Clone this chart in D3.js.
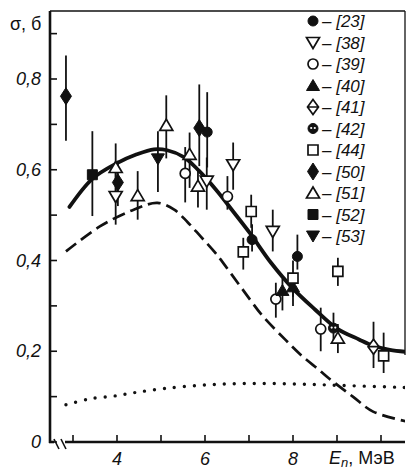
<!DOCTYPE html>
<html>
<head>
<meta charset="utf-8">
<script src="https://cdn.jsdelivr.net/npm/d3@7"></script>
<style>
  body { margin: 0; background: #fff; }
  svg text { font-family: "Liberation Sans", Arial, sans-serif; fill: #111; }
  .num { font-style: italic; font-size: 18px; }
  .leg { font-style: italic; font-size: 17px; }
</style>
</head>
<body>
<svg id="chart" width="407" height="472"></svg>
<script>
// points: [E (MeV), sigma (b), low, high]
var ref23 = [[6.05, 0.683, 0.605, 0.771], [7.07, 0.446, 0.42, 0.48], [8.10, 0.409, 0.38, 0.457]];
var ref38 = [[3.97, 0.541, 0.479, 0.60], [6.04, 0.575, 0.512, 0.627], [6.64, 0.611, 0.556, 0.66], [7.54, 0.464, 0.42, 0.512]];
var ref39 = [[5.55, 0.592, 0.528, 0.65], [6.51, 0.541, 0.512, 0.586], [7.61, 0.315, 0.274, 0.351], [8.63, 0.249, 0.20, 0.296]];
var ref40 = [[7.76, 0.334, 0.29, 0.36], [8.00, 0.342, 0.30, 0.37]];
var ref41 = [[9.83, 0.210, 0.163, 0.265]];
var ref42 = [[8.92, 0.251, 0.22, 0.285]];
var ref44 = [[6.87, 0.419, 0.38, 0.45], [7.05, 0.508, 0.472, 0.545], [8.00, 0.361, 0.32, 0.40], [9.02, 0.376, 0.344, 0.406], [10.06, 0.190, 0.152, 0.241]];
var ref50 = [[2.84, 0.762, 0.664, 0.852], [4.02, 0.572, 0.52, 0.62], [5.87, 0.692, 0.608, 0.788]];
var ref51 = [[3.97, 0.605, 0.55, 0.658], [4.47, 0.543, 0.49, 0.597], [5.12, 0.698, 0.625, 0.764], [5.65, 0.634, 0.56, 0.682], [5.84, 0.564, 0.517, 0.60], [9.02, 0.229, 0.196, 0.26]];
var ref52 = [[3.44, 0.589, 0.498, 0.685]];
var ref53 = [[4.93, 0.624, 0.551, 0.685]];

// curves: [E, sigma]
var totalCurve = [[2.92, 0.518], [3.44, 0.580], [3.99, 0.614], [4.45, 0.634], [4.84, 0.645], [5.14, 0.643],
  [5.52, 0.628], [5.86, 0.598], [6.25, 0.556], [6.64, 0.508], [7.03, 0.459], [7.50, 0.395], [8.00, 0.338],
  [8.50, 0.292], [9.00, 0.250], [9.50, 0.226], [9.83, 0.212], [10.20, 0.203], [10.66, 0.198]];
var dashCurve = [[2.84, 0.420], [3.61, 0.475], [4.38, 0.512], [4.92, 0.527], [5.30, 0.512], [5.60, 0.485],
  [5.90, 0.453], [6.25, 0.415], [6.60, 0.370], [7.03, 0.313], [7.29, 0.280], [7.83, 0.225], [8.20, 0.190],
  [8.59, 0.159], [8.82, 0.140], [9.36, 0.100], [9.82, 0.067], [10.60, 0.045]];
var dotCurve = [[2.84, 0.082], [3.38, 0.095], [3.99, 0.102], [4.41, 0.109], [5.10, 0.118], [6.05, 0.126],
  [7.00, 0.129], [8.00, 0.128], [9.00, 0.125], [10.58, 0.120]];

var yTicks = [0, 0.1, 0.2, 0.3, 0.4, 0.5, 0.6, 0.7, 0.8, 0.9];
var yLabels = { 0: '0', 0.2: '0,2', 0.4: '0,4', 0.6: '0,6', 0.8: '0,8' };
var xTicks = [3, 4, 5, 6, 7, 8, 9, 10];
var xLabels = { 4: '4', 6: '6', 8: '8' };

var series = [
  { key: '[23]', type: 'circle', fill: true, data: ref23 },
  { key: '[38]', type: 'tridown', fill: false, data: ref38 },
  { key: '[39]', type: 'circle', fill: false, data: ref39 },
  { key: '[40]', type: 'triup', fill: true, data: ref40 },
  { key: '[41]', type: 'diamondbar', fill: false, data: ref41 },
  { key: '[42]', type: 'dotcircle', fill: true, data: ref42 },
  { key: '[44]', type: 'square', fill: false, data: ref44 },
  { key: '[50]', type: 'diamond', fill: true, data: ref50 },
  { key: '[51]', type: 'triup', fill: false, data: ref51 },
  { key: '[52]', type: 'square', fill: true, data: ref52 },
  { key: '[53]', type: 'tridown', fill: true, data: ref53 }
];

var plotL = 50, plotT = 11, plotR = 405, plotB = 442;
var svg = d3.select('#chart');

var x = d3.scaleLinear().domain([4, 8]).range([117, 293]);
var y = d3.scaleLinear().domain([0, 0.8]).range([plotB, 79]);

function shape(type) {
  switch (type) {
    case 'circle': return 'M5,0A5,5 0 1,1 -5,0A5,5 0 1,1 5,0Z';
    case 'dotcircle': return 'M5,0A5,5 0 1,1 -5,0A5,5 0 1,1 5,0Z';
    case 'triup': return 'M0,-6L6.5,5L-6.5,5Z';
    case 'tridown': return 'M0,6L6.5,-5L-6.5,-5Z';
    case 'square': return 'M-5,-5H5V5H-5Z';
    case 'diamond': return 'M0,-8.5L5.5,0L0,8.5L-5.5,0Z';
    case 'diamondbar': return 'M0,-7.5L5.5,0L0,7.5L-5.5,0ZM-5.5,0H5.5';
  }
}

function drawMarker(g, s) {
  g.append('path')
    .attr('d', shape(s.type))
    .attr('fill', s.fill ? '#111' : '#fff')
    .attr('stroke', '#111')
    .attr('stroke-width', s.fill ? 1 : 1.7)
    .attr('stroke-linejoin', 'miter');
  if (s.type === 'dotcircle') {
    g.append('circle').attr('cx', -1.8).attr('cy', -0.5).attr('r', 1.1).attr('fill', '#fff');
    g.append('circle').attr('cx', 1.8).attr('cy', -0.5).attr('r', 1.1).attr('fill', '#fff');
  }
}

// frame
var frame = svg.append('g').attr('class', 'frame');
frame.append('line').attr('x1', plotL).attr('x2', plotR).attr('y1', plotT).attr('y2', plotT)
  .attr('stroke', '#111').attr('stroke-width', 1.5);
frame.append('line').attr('x1', plotR).attr('x2', plotR).attr('y1', plotT).attr('y2', 355)
  .attr('stroke', '#111').attr('stroke-width', 1.3);
frame.append('line').attr('x1', plotL).attr('x2', plotL).attr('y1', plotT).attr('y2', plotB + 1)
  .attr('stroke', '#111').attr('stroke-width', 2.6);
frame.append('line').attr('x1', plotL - 1).attr('x2', 54).attr('y1', plotB).attr('y2', plotB)
  .attr('stroke', '#111').attr('stroke-width', 2.6);
frame.append('line').attr('x1', 65).attr('x2', plotR).attr('y1', plotB).attr('y2', plotB)
  .attr('stroke', '#111').attr('stroke-width', 2.6);
// axis break
[54, 61].forEach(function (bx) {
  frame.append('line').attr('x1', bx).attr('x2', bx + 5).attr('y1', plotB - 3).attr('y2', plotB + 7)
    .attr('stroke', '#111').attr('stroke-width', 1.6);
});

// y ticks
var yAxis = svg.append('g');
yAxis.selectAll('line').data(yTicks).enter().append('line')
  .attr('x1', plotL).attr('x2', plotL + 7)
  .attr('y1', function (d) { return y(d); }).attr('y2', function (d) { return y(d); })
  .attr('stroke', '#111').attr('stroke-width', 1.6);
yAxis.selectAll('text').data(yTicks.filter(function (d) { return yLabels[d]; })).enter().append('text')
  .attr('class', 'num')
  .attr('x', 41).attr('y', function (d) { return y(d) + 6; })
  .attr('text-anchor', 'end')
  .text(function (d) { return yLabels[d]; });

// x ticks
var xAxis = svg.append('g');
xAxis.selectAll('line').data(xTicks).enter().append('line')
  .attr('x1', function (d) { return x(d); }).attr('x2', function (d) { return x(d); })
  .attr('y1', plotB).attr('y2', plotB - 7)
  .attr('stroke', '#111').attr('stroke-width', 1.6);
xAxis.selectAll('text').data(xTicks.filter(function (d) { return xLabels[d]; })).enter().append('text')
  .attr('class', 'num')
  .attr('x', function (d) { return x(d); }).attr('y', 465)
  .attr('text-anchor', 'middle')
  .text(function (d) { return xLabels[d]; });

// axis titles
svg.append('text').attr('x', 10).attr('y', 30).style('font-size', '18px').text('σ, б');
var xt = svg.append('text').attr('x', 329).attr('y', 464).style('font-size', '18px');
xt.append('tspan').style('font-style', 'italic').text('E');
xt.append('tspan').style('font-style', 'italic').style('font-size', '13px').attr('dy', 3).text('n');
xt.append('tspan').attr('dy', -3).text(', МэВ');

// curves
svg.append('clipPath').attr('id', 'plot-clip').append('rect')
  .attr('x', plotL).attr('y', plotT).attr('width', plotR - plotL).attr('height', plotB - plotT);
var line = d3.line()
  .x(function (d) { return x(d[0]); })
  .y(function (d) { return y(d[1]); })
  .curve(d3.curveCatmullRom.alpha(0.5));
var curves = svg.append('g').attr('clip-path', 'url(#plot-clip)');
curves.append('path').datum(dotCurve).attr('d', line)
  .attr('fill', 'none').attr('stroke', '#111').attr('stroke-width', 3.4)
  .attr('stroke-linecap', 'round').attr('stroke-dasharray', '0 10');
curves.append('path').datum(dashCurve).attr('d', line)
  .attr('fill', 'none').attr('stroke', '#111').attr('stroke-width', 2.7)
  .attr('stroke-dasharray', '13 6');
curves.append('path').datum(totalCurve).attr('d', line)
  .attr('fill', 'none').attr('stroke', '#111').attr('stroke-width', 3.8)
  .attr('stroke-linecap', 'round');

// error bars then markers
var pts = svg.append('g');
series.forEach(function (s) {
  pts.selectAll(null).data(s.data).enter().append('line')
    .attr('x1', function (d) { return x(d[0]); }).attr('x2', function (d) { return x(d[0]); })
    .attr('y1', function (d) { return y(d[2]); }).attr('y2', function (d) { return y(d[3]); })
    .attr('stroke', '#111').attr('stroke-width', 1.8);
});
series.forEach(function (s) {
  pts.selectAll(null).data(s.data).enter().append('g')
    .attr('transform', function (d) { return 'translate(' + x(d[0]) + ',' + y(d[1]) + ')'; })
    .each(function () { drawMarker(d3.select(this), s); });
});

// legend
var legend = svg.append('g');
series.forEach(function (s, i) {
  var row = legend.append('g').attr('transform', 'translate(313,' + (21 + i * 21.5) + ')');
  drawMarker(row, s);
  row.append('text').attr('class', 'leg').attr('x', 9).attr('y', 6).text('– ' + s.key);
});
</script>
</body>
</html>
